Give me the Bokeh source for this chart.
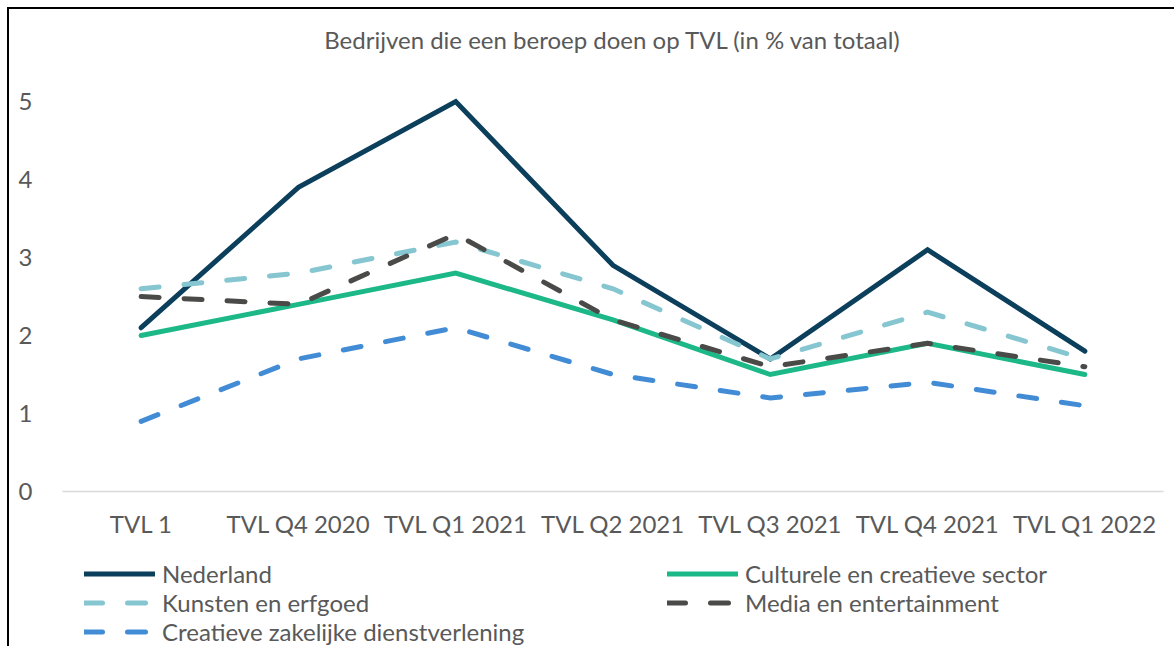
from bokeh.plotting import figure
from bokeh.models import ColumnDataSource, FactorRange, Range1d, FixedTicker, Legend, LegendItem, Spacer
from bokeh.layouts import column, row
from bokeh.embed import file_html
from bokeh.resources import INLINE

categories = ["TVL 1", "TVL Q4 2020", "TVL Q1 2021", "TVL Q2 2021", "TVL Q3 2021", "TVL Q4 2021", "TVL Q1 2022"]
nederland = [2.1, 3.9, 5.0, 2.9, 1.7, 3.1, 1.8]
culturele = [2.0, 2.4, 2.8, 2.2, 1.5, 1.9, 1.5]
kunsten = [2.6, 2.8, 3.2, 2.6, 1.7, 2.3, 1.7]
media = [2.5, 2.4, 3.3, 2.2, 1.6, 1.9, 1.6]
creatieve = [0.9, 1.7, 2.1, 1.5, 1.2, 1.4, 1.1]
y_ticks = [0, 1, 2, 3, 4, 5]
title_text = "Bedrijven die een beroep doen op TVL (in % van totaal)"
series_names = ["Nederland", "Culturele en creatieve sector", "Kunsten en erfgoed",
                "Media en entertainment", "Creatieve zakelijke dienstverlening"]

FONT = "Lato"
TXT = "#595959"
COLORS = ["#0B3F5B", "#1DB887", "#86C6D0", "#4A4A48", "#428BD5"]
DASHES = ["solid", "solid", "18 25", "18 25", "18 25"]
W = 5

p = figure(width=1167, height=543, x_range=FactorRange(*categories, range_padding=0),
           y_range=Range1d(0, 5.45), output_backend="svg", toolbar_location=None,
           min_border_left=53, min_border_right=13, min_border_top=56, min_border_bottom=61)
p.styles = {"border-top": "2px solid #000000", "border-left": "2px solid #000000"}
p.outline_line_color = None
p.xgrid.grid_line_color = None
p.ygrid.grid_line_color = None

p.title.text = title_text
p.title.align = "center"
p.title.text_font = FONT
p.title.text_font_style = "normal"
p.title.text_font_size = "24px"
p.title.text_color = TXT
p.title.standoff = 26

src = ColumnDataSource(dict(x=categories, ned=nederland, cul=culturele, kun=kunsten, med=media, cre=creatieve))
cols = ["ned", "cul", "kun", "med", "cre"]
for c, col, d in zip(cols, COLORS, DASHES):
    p.line("x", c, source=src, line_color=col, line_width=W, line_cap="round",
           line_join="miter", line_dash=d)

p.xaxis.axis_line_color = "#D9D9D9"
p.xaxis.axis_line_width = 1.5
p.xaxis.major_tick_line_color = None
p.xaxis.minor_tick_line_color = None
p.xaxis.major_label_text_font = FONT
p.xaxis.major_label_text_font_size = "24px"
p.xaxis.major_label_text_color = TXT
p.xaxis.major_label_standoff = 11

p.yaxis.ticker = FixedTicker(ticks=y_ticks)
p.yaxis.axis_line_color = None
p.yaxis.major_tick_line_color = None
p.yaxis.minor_tick_line_color = None
p.yaxis.major_label_text_font = FONT
p.yaxis.major_label_text_font_size = "24px"
p.yaxis.major_label_text_color = TXT
p.yaxis.major_label_standoff = 24

# legend panel (its frame is aligned with the chart frame by the column layout)
lf = figure(width=1167, height=96, x_range=Range1d(0, 1), y_range=Range1d(0, 1),
            output_backend="svg", toolbar_location=None,
            x_axis_location=None, y_axis_location=None,
            min_border_left=0, min_border_right=0, min_border_top=0, min_border_bottom=0)
lf.styles = {"border-left": "2px solid #000000"}
lf.outline_line_color = None
lf.xgrid.grid_line_color = None
lf.ygrid.grid_line_color = None

offscreen = ColumnDataSource(dict(x=[-10, -9], y=[-10, -10]))
lrs = []
for col, d in zip(COLORS, DASHES):
    lrs.append(lf.line("x", "y", source=offscreen, line_color=col, line_width=W, line_cap="round", line_dash=d))

def mk_legend(items, loc):
    lg = Legend(items=items, location=loc, orientation="vertical")
    lg.label_text_font = FONT
    lg.label_text_font_size = "24px"
    lg.label_text_color = TXT
    lg.label_height = 29
    lg.glyph_height = 29
    lg.glyph_width = 71
    lg.label_standoff = 7
    lg.spacing = 0
    lg.padding = 0
    lg.margin = 0
    lg.border_line_color = None
    lg.background_fill_alpha = 0
    return lg

leg1 = mk_legend([LegendItem(label=series_names[0], renderers=[lrs[0]]),
                  LegendItem(label=series_names[2], renderers=[lrs[2]]),
                  LegendItem(label=series_names[4], renderers=[lrs[4]])], (22, 0))
leg2 = mk_legend([LegendItem(label=series_names[1], renderers=[lrs[1]]),
                  LegendItem(label=series_names[3], renderers=[lrs[3]])], (605, 29))
lf.add_layout(leg1, "center")
lf.add_layout(leg2, "center")

layout = row(Spacer(width=7, height=648), column(Spacer(width=1169, height=7), p, lf, spacing=0), spacing=0)

open("out.html", "w").write(file_html(layout, INLINE))
